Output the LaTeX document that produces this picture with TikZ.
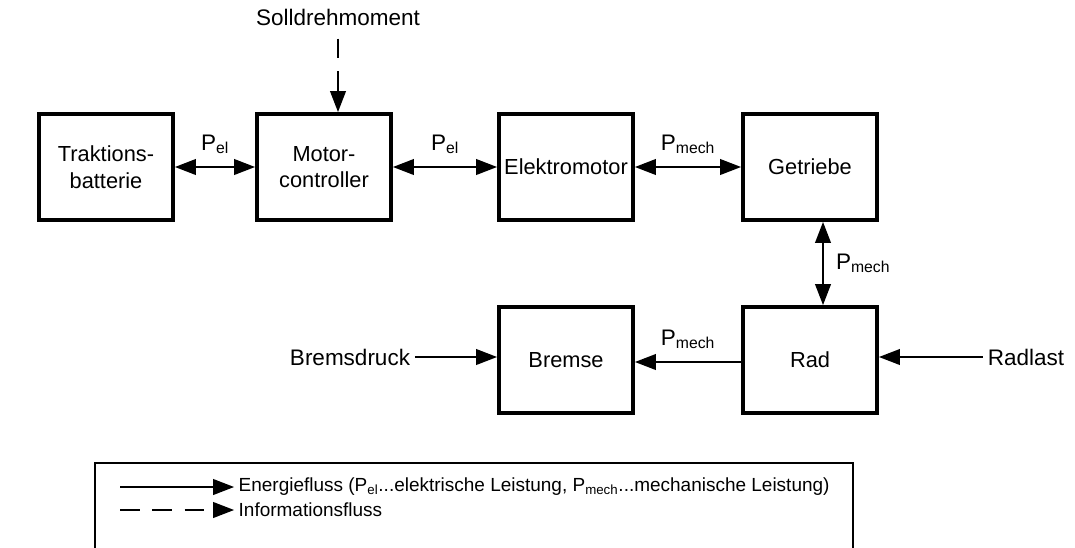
\documentclass[tikz,border=0pt]{standalone}
\usepackage{fontspec}
\setmainfont{Liberation Sans}
\usetikzlibrary{arrows.meta}

\tikzset{
  block/.style={draw, line width=2.6pt, minimum width=3.35cm, minimum height=2.65cm,
    inner sep=1.5pt, align=center, font=\fontsize{15.5}{19}\selectfont},
  flow/.style={line width=1.8pt, >={Triangle[length=15pt,width=11pt]}},
  infoflow/.style={flow, dash pattern=on 14pt off 9pt},
  lbl/.style={font=\fontsize{16}{19}\selectfont},
  legtext/.style={font=\fontsize{13.5}{15}\selectfont, anchor=west, inner sep=1pt},
}

\begin{document}
\begin{tikzpicture}[x=0.025cm, y=-0.025cm]
  \useasboundingbox (0,0) rectangle (1075,547);
  % upper row: battery to gearbox
  \node[block] (trak) at (106,167) {Traktions-\\batterie};
  \node[block] (ctrl) at (324,167) {Motor-\\controller};
  \node[block] (emot) at (566,167) {Elektromotor};
  \node[block] (getr) at (810,167) {Getriebe};
  % lower row
  \node[block] (brems) at (566,360) {Bremse};
  \node[block] (rad) at (810,360) {Rad};
  % inputs from outside
  \node[lbl] (soll) at (338,17) {Solldrehmoment};
  \node[lbl] (druck) at (350,357) {Bremsdruck};
  \node[lbl] (last) at (1026,357) {Radlast};

  % energy flow between the blocks
  \draw[flow,<->] (trak.east) -- (ctrl.west)
    node[lbl, midway, above=5pt] {P\textsubscript{el}};
  \draw[flow,<->] (ctrl.east) -- (emot.west)
    node[lbl, midway, above=5pt] {P\textsubscript{el}};
  \draw[flow,<->] (emot.east) -- (getr.west)
    node[lbl, midway, above=5pt] {P\textsubscript{mech}};
  \draw[flow,<->] ([xshift=0.325cm]getr.south) -- ([xshift=0.325cm]rad.north)
    node[lbl, midway, right=5pt] {P\textsubscript{mech}};
  \draw[flow,->] ([yshift=-0.05cm]rad.west) -- ([yshift=-0.05cm]brems.east)
    node[lbl, midway, above=5pt] {P\textsubscript{mech}};
  \draw[flow,->] (druck.east) -- (druck.east -| brems.west);
  \draw[flow,->] (last.west) -- (last.west -| rad.east);
  % set point (information)
  \draw[infoflow,->,shorten <=6pt] (soll.south) -- (soll.south |- ctrl.north);

  % legend, frame runs off the lower edge
  \draw[line width=1.2pt] (95,463) rectangle (853,570);
  \coordinate (e0) at (120,487);
  \coordinate (i0) at (120,510);
  \node[legtext] (etext) at (237,487)
    {Energiefluss (P\textsubscript{el}...elektrische Leistung, P\textsubscript{mech}...mechanische Leistung)};
  \node[legtext] (itext) at (237,510) {Informationsfluss};
  \draw[flow,->] (e0) -- ([xshift=-2pt]etext.west);
  \draw[infoflow,->] (i0) -- ([xshift=-2pt]itext.west);
\end{tikzpicture}
\end{document}
